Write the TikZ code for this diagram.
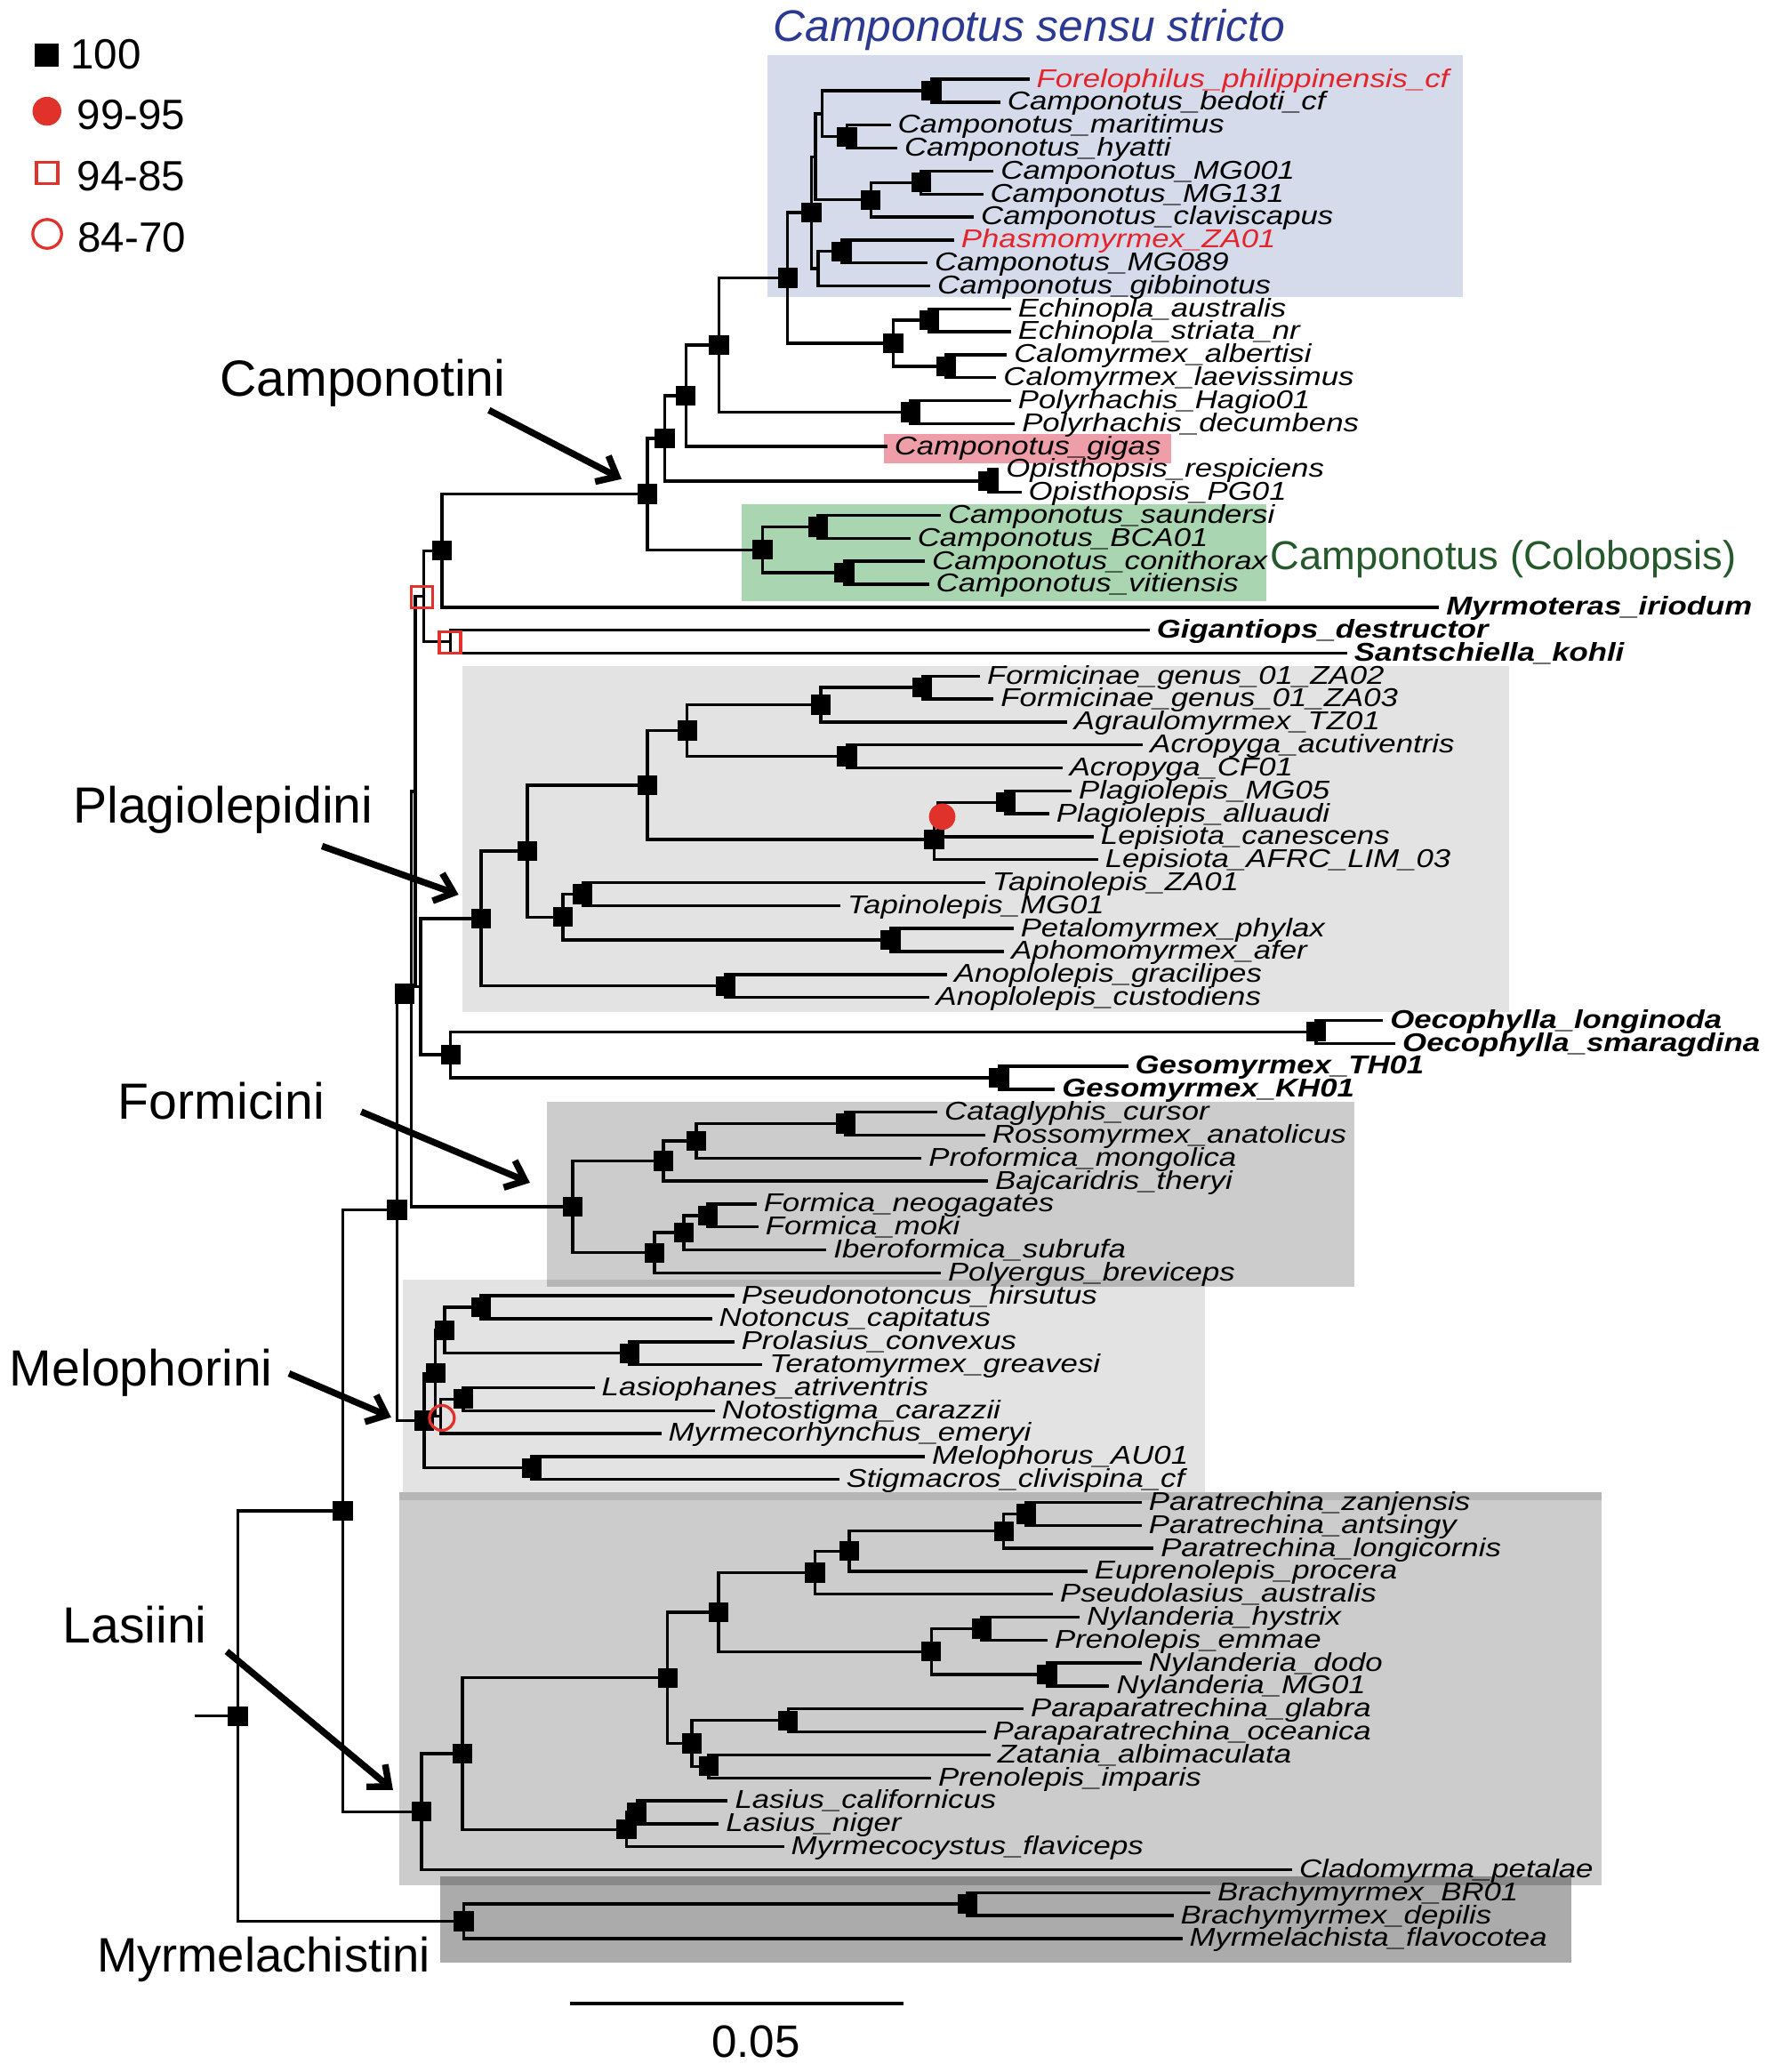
\documentclass[tikz,border=0pt]{standalone}
\usepackage{fontspec}
\setmainfont{Liberation Sans}
\newfontfamily\lfont[FakeStretch=1.2]{Liberation Sans}
\usetikzlibrary{arrows.meta}
\definecolor{labred}{HTML}{E3242B}
\definecolor{markred}{HTML}{E0312B}
\definecolor{titleblue}{HTML}{2B3990}
\definecolor{titlegreen}{HTML}{25592B}
\definecolor{boxblue}{HTML}{D6DBEC}
\definecolor{boxgreen}{HTML}{A9D6B1}
\definecolor{boxpink}{HTML}{EE9EA8}
\newcommand\tleaf[4]{%
  \coordinate (t#1) at (#2,{60+(#1-1)*17.37});
  \node[#3] (n#1) at ({#2+5},{66+(#1-1)*17.37}) {#4};}
\newcommand\tclade[3]{\draw[br] (#2) -- (#1 |- #2) -- (#1 |- #3) -- (#3);}
\begin{document}
\begin{tikzpicture}[x=0.5pt,y=-0.5pt,
  br/.style={line width=1.15pt, line join=miter},
  sq/.style={rectangle, fill=black, minimum size=7.5pt, inner sep=0pt, outer sep=0pt},
  rsq/.style={rectangle, draw=markred, line width=1.1pt, minimum size=8.1pt, inner sep=0pt},
  rdot/.style={circle, fill=markred, minimum size=10pt, inner sep=0pt},
  rcirc/.style={circle, draw=markred, line width=1.1pt, minimum size=9.4pt, inner sep=0pt},
  lf/.style={inner sep=0pt, anchor=base west, font=\lfont\fontsize{9.75}{10}\selectfont\itshape},
  lfb/.style={lf, font=\lfont\fontsize{9.75}{10}\selectfont\bfseries\itshape},
  lfr/.style={lf, text=labred},
  trib/.style={inner sep=0pt, anchor=base west, font=\fontsize{19.25}{22}\selectfont},
  leg/.style={inner sep=0pt, anchor=base west, font=\fontsize{16}{18}\selectfont},
  tarrow/.style={line width=2.5pt, -{Straight Barb[length=6.5pt,width=11pt]}}]
\useasboundingbox (0,0) rectangle (1343,1568);

% ---------- coloured boxes ----------
\fill[boxblue] (581,41.5) rectangle (1107,224.9);
\fill[boxgreen] (561,381.7) rectangle (958,455);
\fill[boxpink] (669,328.5) rectangle (886,350.7);
\fill[black, opacity=0.11] (350,504) rectangle (1142,766);
\fill[black, opacity=0.2] (414,834) rectangle (1025,974);
\fill[black, opacity=0.11] (305,968.6) rectangle (912,1129);
\fill[black, opacity=0.2] (302,1129) rectangle (1212,1426.6);
\fill[black, opacity=0.11] (302,1129) rectangle (1212,1135);
\fill[black, opacity=0.33] (333,1420) rectangle (1189,1485);

% ---------- titles ----------
\node[inner sep=0pt, anchor=base west, text=titleblue, font=\fontsize{16.75}{20}\selectfont\itshape] (ttlA) at (585,31.5) {Camponotus sensu stricto};
\node[inner sep=0pt, anchor=base west, text=titlegreen, font=\fontsize{15.25}{18}\selectfont] (ttlB) at (961,431) {Camponotus (Colobopsis)};

% ---------- leaves ----------
\tleaf{1}{779}{lfr}{Forelophilus\_philippinensis\_cf}
\tleaf{2}{757}{lf}{Camponotus\_bedoti\_cf}
\tleaf{3}{674}{lf}{Camponotus\_maritimus}
\tleaf{4}{679}{lf}{Camponotus\_hyatti}
\tleaf{5}{752}{lf}{Camponotus\_MG001}
\tleaf{6}{744}{lf}{Camponotus\_MG131}
\tleaf{7}{737}{lf}{Camponotus\_claviscapus}
\tleaf{8}{722}{lfr}{Phasmomyrmex\_ZA01}
\tleaf{9}{702}{lf}{Camponotus\_MG089}
\tleaf{10}{704}{lf}{Camponotus\_gibbinotus}
\tleaf{11}{765}{lf}{Echinopla\_australis}
\tleaf{12}{765}{lf}{Echinopla\_striata\_nr}
\tleaf{13}{762}{lf}{Calomyrmex\_albertisi}
\tleaf{14}{754}{lf}{Calomyrmex\_laevissimus}
\tleaf{15}{765}{lf}{Polyrhachis\_Hagio01}
\tleaf{16}{768}{lf}{Polyrhachis\_decumbens}
\tleaf{17}{671.5}{lf}{Camponotus\_gigas}
\tleaf{18}{756}{lf}{Opisthopsis\_respiciens}
\tleaf{19}{773}{lf}{Opisthopsis\_PG01}
\tleaf{20}{712}{lf}{Camponotus\_saundersi}
\tleaf{21}{689}{lf}{Camponotus\_BCA01}
\tleaf{22}{700}{lf}{Camponotus\_conithorax}
\tleaf{23}{703}{lf}{Camponotus\_vitiensis}
\tleaf{24}{1089}{lfb}{Myrmoteras\_iriodum}
\tleaf{25}{870}{lfb}{Gigantiops\_destructor}
\tleaf{26}{1019.5}{lfb}{Santschiella\_kohli}
\tleaf{27}{741.6}{lf}{Formicinae\_genus\_01\_ZA02}
\tleaf{28}{752}{lf}{Formicinae\_genus\_01\_ZA03}
\tleaf{29}{807.5}{lf}{Agraulomyrmex\_TZ01}
\tleaf{30}{865}{lf}{Acropyga\_acutiventris}
\tleaf{31}{804}{lf}{Acropyga\_CF01}
\tleaf{32}{811}{lf}{Plagiolepis\_MG05}
\tleaf{33}{794}{lf}{Plagiolepis\_alluaudi}
\tleaf{34}{827.7}{lf}{Lepisiota\_canescens}
\tleaf{35}{831}{lf}{Lepisiota\_AFRC\_LIM\_03}
\tleaf{36}{745.6}{lf}{Tapinolepis\_ZA01}
\tleaf{37}{636}{lf}{Tapinolepis\_MG01}
\tleaf{38}{767}{lf}{Petalomyrmex\_phylax}
\tleaf{39}{760}{lf}{Aphomomyrmex\_afer}
\tleaf{40}{716.7}{lf}{Anoplolepis\_gracilipes}
\tleaf{41}{703}{lf}{Anoplolepis\_custodiens}
\tleaf{42}{1046.6}{lfb}{Oecophylla\_longinoda}
\tleaf{43}{1056}{lfb}{Oecophylla\_smaragdina}
\tleaf{44}{853.7}{lfb}{Gesomyrmex\_TH01}
\tleaf{45}{798.4}{lfb}{Gesomyrmex\_KH01}
\tleaf{46}{709.4}{lf}{Cataglyphis\_cursor}
\tleaf{47}{745.6}{lf}{Rossomyrmex\_anatolicus}
\tleaf{48}{697.4}{lf}{Proformica\_mongolica}
\tleaf{49}{747.7}{lf}{Bajcaridris\_theryi}
\tleaf{50}{572.5}{lf}{Formica\_neogagates}
\tleaf{51}{574}{lf}{Formica\_moki}
\tleaf{52}{625.4}{lf}{Iberoformica\_subrufa}
\tleaf{53}{712}{lf}{Polyergus\_breviceps}
\tleaf{54}{555.7}{lf}{Pseudonotoncus\_hirsutus}
\tleaf{55}{538.8}{lf}{Notoncus\_capitatus}
\tleaf{56}{555.7}{lf}{Prolasius\_convexus}
\tleaf{57}{577}{lf}{Teratomyrmex\_greavesi}
\tleaf{58}{450}{lf}{Lasiophanes\_atriventris}
\tleaf{59}{541}{lf}{Notostigma\_carazzii}
\tleaf{60}{500.4}{lf}{Myrmecorhynchus\_emeryi}
\tleaf{61}{700}{lf}{Melophorus\_AU01}
\tleaf{62}{635}{lf}{Stigmacros\_clivispina\_cf}
\tleaf{63}{864}{lf}{Paratrechina\_zanjensis}
\tleaf{64}{864}{lf}{Paratrechina\_antsingy}
\tleaf{65}{873}{lf}{Paratrechina\_longicornis}
\tleaf{66}{823}{lf}{Euprenolepis\_procera}
\tleaf{67}{796.8}{lf}{Pseudolasius\_australis}
\tleaf{68}{817}{lf}{Nylanderia\_hystrix}
\tleaf{69}{792.8}{lf}{Prenolepis\_emmae}
\tleaf{70}{864}{lf}{Nylanderia\_dodo}
\tleaf{71}{839.5}{lf}{Nylanderia\_MG01}
\tleaf{72}{774.6}{lf}{Paraparatrechina\_glabra}
\tleaf{73}{746}{lf}{Paraparatrechina\_oceanica}
\tleaf{74}{749.5}{lf}{Zatania\_albimaculata}
\tleaf{75}{704.6}{lf}{Prenolepis\_imparis}
\tleaf{76}{550.8}{lf}{Lasius\_californicus}
\tleaf{77}{544}{lf}{Lasius\_niger}
\tleaf{78}{593.3}{lf}{Myrmecocystus\_flaviceps}
\tleaf{79}{977.8}{lf}{Cladomyrma\_petalae}
\tleaf{80}{916}{lf}{Brachymyrmex\_BR01}
\tleaf{81}{888}{lf}{Brachymyrmex\_depilis}
\tleaf{82}{894.8}{lf}{Myrmelachista\_flavocotea}

% ---------- internal nodes ----------
\coordinate (A1) at (705,68.69);
\coordinate (A2) at (641,103.43);
\coordinate (A12) at (622,86.06);
\coordinate (A3) at (697,138.17);
\coordinate (A4) at (659,151.2);
\coordinate (P) at (617,118.63);
\coordinate (A5) at (637,190.28);
\coordinate (C) at (619,203.3);
\coordinate (Q) at (614,160.97);
\coordinate (E1) at (703,242.39);
\coordinate (E2) at (716,277.13);
\coordinate (E) at (676,259.76);
\coordinate (R) at (596,210.37);
\coordinate (F) at (689,311.87);
\coordinate (G) at (544,261.12);
\coordinate (H) at (519,299.52);
\coordinate (O) at (748,363.98);
\coordinate (I) at (503,331.75);
\coordinate (K1) at (619,398.72);
\coordinate (K2) at (639,433.46);
\coordinate (K) at (577,416.09);
\coordinate (J) at (490,373.92);
\coordinate (M) at (334.5,416.72);
\coordinate (N1) at (341,485.57);
\coordinate (N2) at (320.7,451.15);
\coordinate (P1) at (698,520.31);
\coordinate (P2) at (621,533.34);
\coordinate (P3) at (641,572.42);
\coordinate (P4) at (520,552.88);
\coordinate (P5) at (761,607.16);
\coordinate (P6) at (710,619);
\coordinate (P7) at (707,635.39);
\coordinate (P8) at (490,594.14);
\coordinate (T1) at (441,676.64);
\coordinate (T2) at (674,711.38);
\coordinate (T3) at (426,694.01);
\coordinate (P9) at (399,644.08);
\coordinate (An) at (549,746.12);
\coordinate (PL) at (364,695.1);
\coordinate (Oe) at (996,780.86);
\coordinate (Ge) at (756,815.6);
\coordinate (OG) at (341,798.23);
\coordinate (W) at (318.4,746.67);
\coordinate (Y) at (314.2,598.91);
\coordinate (F1) at (640,850.34);
\coordinate (F2) at (527,863.37);
\coordinate (F3) at (502,878.57);
\coordinate (F4) at (535.7,919.82);
\coordinate (F5) at (517.5,932.85);
\coordinate (F6) at (495.3,948.05);
\coordinate (FO) at (433.4,913.31);
\coordinate (X2) at (311.2,756.11);
\coordinate (M1) at (364,989.3);
\coordinate (M2) at (476.5,1024.04);
\coordinate (M3) at (336.5,1006.67);
\coordinate (M4) at (350.5,1058.78);
\coordinate (M5p) at (333.5,1071.81);
\coordinate (M5) at (329.6,1039.24);
\coordinate (M6) at (402.4,1110.89);
\coordinate (ME) at (321,1075.07);
\coordinate (X1) at (300.5,915.59);
\coordinate (L1) at (776.6,1145.63);
\coordinate (L2) at (759.6,1158.66);
\coordinate (L3) at (642.7,1173.86);
\coordinate (L4) at (616.7,1190.14);
\coordinate (L5) at (743,1232.48);
\coordinate (L6) at (792.4,1267.22);
\coordinate (L7) at (704.8,1249.85);
\coordinate (L8) at (543.7,1220);
\coordinate (L9) at (596.4,1301.96);
\coordinate (L10) at (536.3,1336.7);
\coordinate (L11) at (523.6,1319.33);
\coordinate (L12) at (505.2,1269.67);
\coordinate (L13) at (482,1371.44);
\coordinate (L14) at (474,1384.47);
\coordinate (L15) at (350,1327.07);
\coordinate (LA) at (319,1370.97);
\coordinate (X) at (259.5,1143.28);
\coordinate (B1) at (732,1440.92);
\coordinate (MY) at (351,1453.95);
\coordinate (RT) at (180,1298.62);
\coordinate (root0) at (147.7,1298.62);

% ---------- branches ----------
\tclade{A1}{t1}{t2}
\tclade{A2}{t3}{t4}
\tclade{A12}{A1}{A2}
\tclade{A3}{t5}{t6}
\tclade{A4}{A3}{t7}
\tclade{P}{A12}{A4}
\tclade{A5}{t8}{t9}
\tclade{C}{A5}{t10}
\tclade{Q}{P}{C}
\tclade{E1}{t11}{t12}
\tclade{E2}{t13}{t14}
\tclade{E}{E1}{E2}
\tclade{R}{Q}{E}
\tclade{F}{t15}{t16}
\tclade{G}{R}{F}
\tclade{H}{G}{t17}
\tclade{O}{t18}{t19}
\tclade{I}{H}{O}
\tclade{K1}{t20}{t21}
\tclade{K2}{t22}{t23}
\tclade{K}{K1}{K2}
\tclade{J}{I}{K}
\tclade{M}{J}{t24}
\tclade{N1}{t25}{t26}
\tclade{N2}{M}{N1}
\tclade{P1}{t27}{t28}
\tclade{P2}{P1}{t29}
\tclade{P3}{t30}{t31}
\tclade{P4}{P2}{P3}
\tclade{P5}{t32}{t33}
\tclade{P6}{P5}{t34}
\tclade{P7}{P6}{t35}
\tclade{P8}{P4}{P7}
\tclade{T1}{t36}{t37}
\tclade{T2}{t38}{t39}
\tclade{T3}{T1}{T2}
\tclade{P9}{P8}{T3}
\tclade{An}{t40}{t41}
\tclade{PL}{P9}{An}
\tclade{Oe}{t42}{t43}
\tclade{Ge}{t44}{t45}
\tclade{OG}{Oe}{Ge}
\tclade{W}{PL}{OG}
\tclade{Y}{N2}{W}
\tclade{F1}{t46}{t47}
\tclade{F2}{F1}{t48}
\tclade{F3}{F2}{t49}
\tclade{F4}{t50}{t51}
\tclade{F5}{F4}{t52}
\tclade{F6}{F5}{t53}
\tclade{FO}{F3}{F6}
\tclade{X2}{Y}{FO}
\tclade{M1}{t54}{t55}
\tclade{M2}{t56}{t57}
\tclade{M3}{M1}{M2}
\tclade{M4}{t58}{t59}
\tclade{M5p}{M4}{t60}
\tclade{M5}{M3}{M5p}
\tclade{M6}{t61}{t62}
\tclade{ME}{M5}{M6}
\tclade{X1}{X2}{ME}
\tclade{L1}{t63}{t64}
\tclade{L2}{L1}{t65}
\tclade{L3}{L2}{t66}
\tclade{L4}{L3}{t67}
\tclade{L5}{t68}{t69}
\tclade{L6}{t70}{t71}
\tclade{L7}{L5}{L6}
\tclade{L8}{L4}{L7}
\tclade{L9}{t72}{t73}
\tclade{L10}{t74}{t75}
\tclade{L11}{L9}{L10}
\tclade{L12}{L8}{L11}
\tclade{L13}{t76}{t77}
\tclade{L14}{L13}{t78}
\tclade{L15}{L12}{L14}
\tclade{LA}{L15}{t79}
\tclade{X}{X1}{LA}
\tclade{B1}{t80}{t81}
\tclade{MY}{B1}{t82}
\tclade{RT}{X}{MY}
\draw[br] (root0) -- (RT);

% ---------- support markers ----------
\foreach \nn in {A1,A2,A3,A4,A5,Q,E1,E2,E,R,F,G,H,O,I,K1,K2,K,J,M,
  P1,P2,P3,P4,P5,P7,P8,T1,T2,T3,P9,An,PL,Oe,Ge,OG,
  F1,F2,F3,F4,F5,F6,FO,M1,M2,M3,M4,M5,M6,ME,X1,
  L1,L2,L3,L4,L5,L6,L7,L8,L9,L10,L11,L12,L13,L14,L15,LA,X,B1,MY,RT}
  {\node[sq] (s\nn) at (\nn) {};}
\node[sq] (sX2) at (306,752) {};
\node[rsq] (sN2) at (319.5,452) {};
\node[rsq] (sN1) at (340.5,486) {};
\node[rdot] (sP6) at (713,618) {};
\node[rcirc] (sM5p) at (334.4,1073) {};

% ---------- legend ----------
\node[sq, minimum size=8.85pt] (lg1) at (35.3,41.5) {};
\node[rdot, minimum size=10.9pt] (lg2) at (35.5,84.2) {};
\node[rsq] (lg3) at (35.7,131) {};
\node[rcirc, minimum size=10.9pt] (lg4) at (35.7,177) {};
\node[leg] (lt1) at (53,52.3) {100};
\node[leg] (lt2) at (58,98) {99-95};
\node[leg] (lt3) at (58,144.5) {94-85};
\node[leg] (lt4) at (58.5,191) {84-70};

% ---------- tribe labels and arrows ----------
\node[trib] (tCa) at (166,300) {Camponotini};
\node[trib] (tPl) at (55,623) {Plagiolepidini};
\node[trib] (tFo) at (89,847) {Formicini};
\node[trib] (tMe) at (7,1049) {Melophorini};
\node[trib] (tLa) at (47,1243) {Lasiini};
\node[trib, font=\fontsize{18.3}{22}\selectfont] (tMy) at (73,1492) {Myrmelachistini};
\coordinate (aCa1) at (370,310.4); \coordinate (aCa2) at (470.4,362.5);
\coordinate (aPl1) at (243.7,640.3); \coordinate (aPl2) at (347,677);
\coordinate (aFo1) at (273.4,841.3); \coordinate (aFo2) at (401,895);
\coordinate (aMe1) at (218.7,1039.4); \coordinate (aMe2) at (296,1072.5);
\coordinate (aLa1) at (171.6,1249.7); \coordinate (aLa2) at (297.4,1354.5);
\draw[tarrow] (aCa1) -- (aCa2);
\draw[tarrow] (aPl1) -- (aPl2);
\draw[tarrow] (aFo1) -- (aFo2);
\draw[tarrow] (aMe1) -- (aMe2);
\draw[tarrow] (aLa1) -- (aLa2);

% ---------- scale bar ----------
\coordinate (sb1) at (431.2,1516);
\coordinate (sb2) at (684,1516);
\draw[line width=1.35pt] (sb1) -- (sb2);
\node[inner sep=0pt, anchor=base west, font=\fontsize{17.2}{20}\selectfont] (sbl) at (538,1556.6) {0.05};
\end{tikzpicture}
\end{document}
